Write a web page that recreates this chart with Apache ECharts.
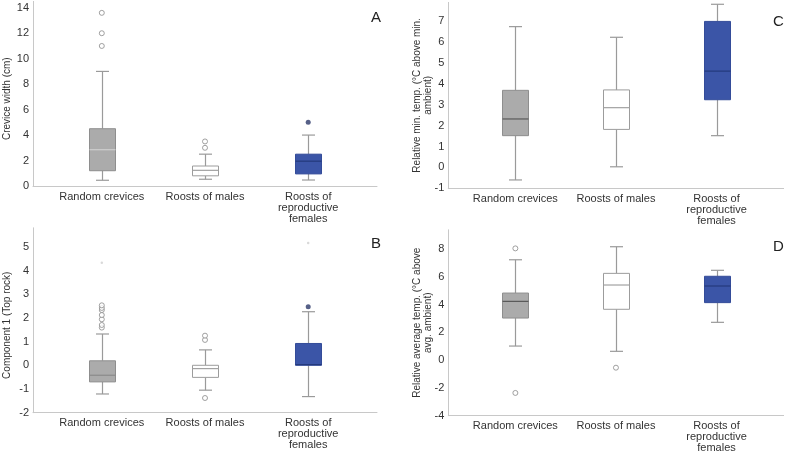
<!DOCTYPE html>
<html><head><meta charset="utf-8">
<script src="https://cdn.jsdelivr.net/npm/echarts@6/dist/echarts.min.js"></script>
<style>html,body{margin:0;padding:0;background:#fff}#c{width:787px;height:454px}</style>
</head><body><div id="c"></div>
<script>
// ---------- DATA ----------
const categories = ['Random crevices', 'Roosts of males', 'Roosts of\nreproductive\nfemales'];

// box stats: [min whisker, Q1, median, Q3, max whisker]
// Panel A – Crevice width (cm)
const widthBoxes = [[0.45, 1.2, 2.85, 4.5, 9.0], [0.53, 0.8, 1.23, 1.57, 2.5], [0.47, 0.95, 1.95, 2.5, 4.0]];
const widthOutliers = [[0, 11.0], [0, 12.0], [0, 13.6], [1, 3.0], [1, 3.5]];
const widthExtremes = [[2, 5.0]];
const widthFaint = [];

// Panel B – Component 1 (Top rock)
const rockBoxes = [[-1.21, -0.70, -0.42, 0.19, 1.32], [-1.05, -0.51, -0.14, 0.0, 0.65], [-1.32, 0.0, 0.03, 0.92, 2.26]];
const rockOutliers = [[0, 1.59], [0, 1.70], [0, 1.94], [0, 2.12], [0, 2.33], [0, 2.42], [0, 2.53], [1, -1.38], [1, 1.07], [1, 1.25]];
const rockExtremes = [[2, 2.47]];
const rockFaint = [[0, 4.33], [2, 5.16]];

// Panel C – Relative min. temp.
const minTempBoxes = [[-0.60, 1.52, 2.32, 3.69, 6.74], [0.03, 1.82, 2.86, 3.71, 6.23], [1.52, 3.24, 4.61, 6.99, 7.81]];
const minTempOutliers = [];
const minTempExtremes = [];
const minTempFaint = [];

// Panel D – Relative average temp.
const avgTempBoxes = [[1.02, 3.04, 4.24, 4.84, 7.24], [0.64, 3.67, 5.42, 6.26, 8.18], [2.73, 4.15, 5.35, 6.05, 6.48]];
const avgTempOutliers = [[0, 8.06], [0, -2.36], [1, -0.54]];
const avgTempExtremes = [];
const avgTempFaint = [];

// y-axis tick settings
const yTicksA = {min: 0, max: 14.5, interval: 2};
const yTicksB = {min: -2, max: 5.8, interval: 1};
const yTicksC = {min: -1, max: 7.9, interval: 1};
const yTicksD = {min: -4, max: 9.4, interval: 2};

// ---------- STYLE / LAYOUT ----------
const BOX_W = 26, CAP_W = 13;
const WHISKER = '#9a9a9a';
const TEXT = '#333333';
const panels = [
  {letter: 'A', boxes: widthBoxes, out: widthOutliers, ext: widthExtremes, faint: widthFaint, ticks: yTicksA,
   name: 'Crevice width (cm)', grid: {left: 33, top: 1.4, width: 344, height: 184.6}, nameGap: 20, namePad: [0, 10, 0, 0],
   medGrey: '#cfcfcf', letterPos: {left: 366, top: 5}},
  {letter: 'B', boxes: rockBoxes, out: rockOutliers, ext: rockExtremes, faint: rockFaint, ticks: yTicksB,
   name: 'Component 1 (Top rock)', grid: {left: 33, top: 227.8, width: 344, height: 184.9}, nameGap: 20, namePad: [0, 10, 0, 0],
   medGrey: '#8a8a8a', letterPos: {left: 366, top: 231}},
  {letter: 'C', boxes: minTempBoxes, out: minTempOutliers, ext: minTempExtremes, faint: minTempFaint, ticks: yTicksC,
   name: 'Relative min. temp. (°C above min.\nambient)', grid: {left: 448.3, top: 2.4, width: 335.3, height: 185.9}, nameGap: 14, namePad: [0, 0, 0, 0],
   medGrey: '#5a5a5a', letterPos: {left: 768, top: 9}},
  {letter: 'D', boxes: avgTempBoxes, out: avgTempOutliers, ext: avgTempExtremes, faint: avgTempFaint, ticks: yTicksD,
   name: 'Relative average temp. (°C above\navg. ambient)', grid: {left: 448.3, top: 229.8, width: 335.3, height: 185.9}, nameGap: 14, namePad: [0, 0, 0, 0],
   medGrey: '#5a5a5a', letterPos: {left: 768, top: 234}}
];

function boxStyles(p) {
  return [
    {fill: '#ababab', stroke: '#8e8e8e', median: p.medGrey},
    {fill: '#ffffff', stroke: '#9c9c9c', median: '#a2a2a2'},
    {fill: '#3b55a7', stroke: '#344c99', median: '#243a7c'}
  ];
}

function makeRender(styles) {
  return function (params, api) {
    const c = api.value(0);
    const yMin = api.coord([c, api.value(1)])[1];
    const yQ1 = api.coord([c, api.value(2)])[1];
    const yMed = api.coord([c, api.value(3)])[1];
    const yQ3 = api.coord([c, api.value(4)])[1];
    const yMax = api.coord([c, api.value(5)])[1];
    const x = Math.round(api.coord([c, api.value(3)])[0]) + 0.5;
    const hw = BOX_W / 2, cw = CAP_W / 2;
    const s = styles[params.dataIndex];
    const wl = {stroke: WHISKER, lineWidth: 1.2};
    return {type: 'group', children: [
      {type: 'line', shape: {x1: x, y1: yMax, x2: x, y2: yQ3}, style: wl},
      {type: 'line', shape: {x1: x, y1: yQ1, x2: x, y2: yMin}, style: wl},
      {type: 'line', shape: {x1: x - cw, y1: yMax, x2: x + cw, y2: yMax}, style: wl},
      {type: 'line', shape: {x1: x - cw, y1: yMin, x2: x + cw, y2: yMin}, style: wl},
      {type: 'rect', shape: {x: x - hw, y: yQ3, width: BOX_W, height: yQ1 - yQ3}, style: {fill: s.fill, stroke: s.stroke, lineWidth: 1}},
      {type: 'line', shape: {x1: x - hw, y1: yMed, x2: x + hw, y2: yMed}, style: {stroke: s.median, lineWidth: 1.2}}
    ]};
  };
}

const option = {animation: false, backgroundColor: '#fff', title: [], grid: [], xAxis: [], yAxis: [], series: []};

panels.forEach((p, k) => {
  option.grid.push(Object.assign({containLabel: false, outerBoundsMode: 'none'}, p.grid));
  option.title.push({text: p.letter, left: p.letterPos.left, top: p.letterPos.top,
    textStyle: {fontSize: 15, fontWeight: 'normal', color: '#222', fontFamily: 'Liberation Sans'}});
  option.xAxis.push({
    type: 'value', gridIndex: k, min: -2 / 3, max: 8 / 3,
    axisLine: {show: true, onZero: false, lineStyle: {color: '#c8c8c8', width: 1}},
    axisTick: {show: false}, splitLine: {show: false},
    axisLabel: {
      customValues: [0, 1, 2], formatter: v => categories[Math.round(v)],
      fontSize: 11, color: TEXT, fontFamily: 'Liberation Sans', lineHeight: 11, margin: 5,
      showMinLabel: true, showMaxLabel: true
    }
  });
  option.yAxis.push({
    type: 'value', gridIndex: k, min: p.ticks.min, max: p.ticks.max, interval: p.ticks.interval,
    axisLine: {show: true, onZero: false, lineStyle: {color: '#c8c8c8', width: 1}},
    axisTick: {show: false}, splitLine: {show: false},
    axisLabel: {fontSize: 11, color: TEXT, fontFamily: 'Liberation Sans', margin: 4, showMaxLabel: false},
    name: p.name, nameLocation: 'middle', nameGap: p.nameGap, nameMoveOverlap: false,
    nameTextStyle: {fontSize: 10, color: TEXT, fontFamily: 'Liberation Sans', lineHeight: 11.5, padding: p.namePad}
  });
  option.series.push({
    type: 'custom', xAxisIndex: k, yAxisIndex: k, clip: false,
    renderItem: makeRender(boxStyles(p)),
    encode: {x: 0, y: [1, 2, 3, 4, 5]},
    data: p.boxes.map((b, i) => [i].concat(b))
  });
  option.series.push({
    type: 'scatter', xAxisIndex: k, yAxisIndex: k, symbol: 'circle', symbolSize: 5, z: 5,
    itemStyle: {color: '#ffffff', borderColor: '#8a8a8a', borderWidth: 1},
    data: p.out
  });
  option.series.push({
    type: 'scatter', xAxisIndex: k, yAxisIndex: k, symbol: 'circle', symbolSize: 5, z: 5,
    itemStyle: {color: '#2c3869', borderColor: '#2c3869', borderWidth: 0},
    data: p.ext
  });
  option.series.push({
    type: 'scatter', xAxisIndex: k, yAxisIndex: k, symbol: 'circle', symbolSize: 2.5, z: 5,
    itemStyle: {color: '#d0d0d0'},
    data: p.faint
  });
});

const chart = echarts.init(document.getElementById('c'), null, {renderer: 'canvas'});
chart.setOption(option);
</script>
</body></html>
